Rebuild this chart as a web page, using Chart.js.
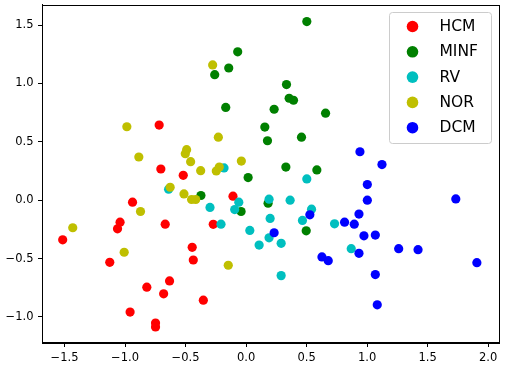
<!DOCTYPE html>
<html>
<head>
<meta charset="utf-8">
<script src="https://cdn.jsdelivr.net/npm/chart.js@4.4.0/dist/chart.umd.min.js"></script>
<style>
  html, body { margin: 0; padding: 0; background: #ffffff; }
  #wrap { width: 509px; height: 366px; }
</style>
</head>
<body>
<div id="wrap"><canvas id="c" width="509" height="366"></canvas></div>
<script>
// ---- data ----
const categories = ['HCM', 'MINF', 'RV', 'NOR', 'DCM'];
const colors = ['#ff0000', '#008000', '#00bfbf', '#bfbf00', '#0000ff'];

const hcmX = [-0.718, -0.704, -0.519, -0.938, -1.041, -1.062, -1.515, -0.668, -0.271, -0.445, -0.436, -1.126, -0.632, -0.820, -0.681, -0.353, -0.958, -0.748, -0.748, -0.108];
const hcmY = [0.643, 0.267, 0.213, -0.017, -0.188, -0.245, -0.339, -0.205, -0.207, -0.404, -0.512, -0.532, -0.691, -0.745, -0.802, -0.856, -0.958, -1.052, -1.086, 0.034];

const minfX = [0.502, -0.069, -0.143, -0.259, 0.334, 0.356, 0.392, -0.168, 0.232, 0.657, 0.155, 0.177, 0.458, 0.329, 0.585, 0.017, -0.373, -0.041, 0.182, 0.497];
const minfY = [1.530, 1.271, 1.132, 1.075, 0.990, 0.873, 0.856, 0.794, 0.779, 0.745, 0.626, 0.509, 0.540, 0.284, 0.259, 0.194, 0.040, -0.097, -0.026, -0.262];

const rvX = [-0.640, -0.182, 0.502, -0.298, -0.060, -0.094, 0.190, 0.364, 0.541, 0.466, 0.199, -0.207, 0.031, 0.190, 0.290, 0.108, 0.731, 0.869, 0.290];
const rvY = [0.094, 0.276, 0.182, -0.062, -0.017, -0.080, 0.009, 0.000, -0.077, -0.173, -0.156, -0.205, -0.259, -0.322, -0.369, -0.384, -0.202, -0.415, -0.646];

const norX = [-0.985, -0.886, -0.491, -0.502, -0.458, -0.375, -0.276, -0.229, -0.039, -0.246, -0.221, -0.627, -0.513, -0.450, -0.416, -0.872, -1.432, -1.007, -0.147];
const norY = [0.629, 0.370, 0.433, 0.398, 0.330, 0.253, 1.158, 0.540, 0.335, 0.250, 0.284, 0.111, 0.054, 0.006, 0.006, -0.097, -0.236, -0.446, -0.557];

const dcmX = [0.941, 0.527, 0.232, 0.814, 0.894, 0.933, 1.002, 1.002, 0.974, 0.933, 0.627, 0.679, 1.123, 1.733, 1.068, 1.261, 1.421, 1.907, 1.068, 1.084];
const dcmY = [0.415, -0.125, -0.279, -0.188, -0.205, -0.119, 0.134, 0.000, -0.305, -0.455, -0.486, -0.518, 0.305, 0.011, -0.299, -0.415, -0.424, -0.535, -0.637, -0.896];

const xTickValues = [-1.5, -1.0, -0.5, 0.0, 0.5, 1.0, 1.5, 2.0];
const yTickValues = [-1.0, -0.5, 0.0, 0.5, 1.0, 1.5];

// ---- build datasets ----
const seriesX = [hcmX, minfX, rvX, norX, dcmX];
const seriesY = [hcmY, minfY, rvY, norY, dcmY];

const datasets = categories.map((name, i) => ({
  label: name,
  data: seriesX[i].map((x, k) => ({ x: x, y: seriesY[i][k] })),
  backgroundColor: colors[i],
  borderColor: colors[i],
  pointRadius: 4.6,
  pointHoverRadius: 4.6,
  pointBorderWidth: 0,
  order: categories.length - i   // later series drawn on top, like matplotlib
}));

const fmt = v => {
  const s = Number(v).toFixed(1);
  return s.startsWith('-') ? '\u2212' + s.slice(1) : s;
};

const FONT = '"DejaVu Sans", sans-serif';

// frame (top/right spines) + legend
const framePlugin = {
  id: 'frame',
  afterDatasetsDraw(chart) {
    const ctx = chart.ctx;
    const a = chart.chartArea;
    ctx.save();
    ctx.strokeStyle = '#000000';
    ctx.lineWidth = 1;
    ctx.strokeRect(Math.round(a.left) + 0.5, Math.round(a.top) + 0.5,
                   Math.round(a.right - a.left) - 1, Math.round(a.bottom - a.top) - 1);

    // legend box, upper right
    const bw = 102, bh = 131;
    const bx = Math.round(a.right - 9 - bw) + 0.5;
    const by = Math.round(a.top + 7) + 0.5;
    const r = 3;
    ctx.beginPath();
    ctx.moveTo(bx + r, by);
    ctx.lineTo(bx + bw - r, by);
    ctx.arcTo(bx + bw, by, bx + bw, by + r, r);
    ctx.lineTo(bx + bw, by + bh - r);
    ctx.arcTo(bx + bw, by + bh, bx + bw - r, by + bh, r);
    ctx.lineTo(bx + r, by + bh);
    ctx.arcTo(bx, by + bh, bx, by + bh - r, r);
    ctx.lineTo(bx, by + r);
    ctx.arcTo(bx, by, bx + r, by, r);
    ctx.closePath();
    ctx.fillStyle = 'rgba(255,255,255,0.8)';
    ctx.fill();
    ctx.strokeStyle = '#cccccc';
    ctx.lineWidth = 1;
    ctx.stroke();

    ctx.font = '15.5px ' + FONT;
    ctx.textAlign = 'left';
    ctx.textBaseline = 'middle';
    chart.data.datasets.forEach((ds, i) => {
      const cy = by + 14 + i * 25.3;
      ctx.beginPath();
      ctx.arc(bx + 23, cy, 5.8, 0, Math.PI * 2);
      ctx.fillStyle = ds.backgroundColor;
      ctx.fill();
      ctx.fillStyle = '#000000';
      ctx.fillText(ds.label, bx + 50, cy + 0.5);
    });
    ctx.restore();
  }
};

new Chart(document.getElementById('c'), {
  type: 'scatter',
  data: { datasets: datasets },
  options: {
    responsive: false,
    animation: false,
    events: [],
    layout: { padding: { top: 3, right: 9.5, left: 0, bottom: 0 } },
    plugins: {
      legend: { display: false },
      tooltip: { enabled: false }
    },
    scales: {
      x: {
        type: 'linear',
        min: -1.686,
        max: 2.094,
        afterBuildTicks: s => { s.ticks = xTickValues.map(v => ({ value: v })); },
        afterFit: s => { s.height = 23; s.paddingLeft = 0; s.paddingRight = 0; },
        grid: { drawOnChartArea: false, drawTicks: true, tickLength: 4, tickColor: '#000000', tickWidth: 1 },
        border: { display: true, color: '#000000', width: 1 },
        ticks: { callback: v => fmt(v), color: '#000000', font: { family: FONT, size: 11.5 }, padding: 4, maxRotation: 0, autoSkip: false }
      },
      y: {
        type: 'linear',
        min: -1.223,
        max: 1.675,
        afterBuildTicks: s => { s.ticks = yTickValues.map(v => ({ value: v })); },
        afterFit: s => { s.width = 42; s.paddingTop = 0; s.paddingBottom = 0; },
        grid: { drawOnChartArea: false, drawTicks: true, tickLength: 4, tickColor: '#000000', tickWidth: 1 },
        border: { display: true, color: '#000000', width: 1 },
        ticks: { callback: v => fmt(v), color: '#000000', font: { family: FONT, size: 11.5 }, padding: 4.5, autoSkip: false }
      }
    }
  },
  plugins: [framePlugin]
});
</script>
</body>
</html>
